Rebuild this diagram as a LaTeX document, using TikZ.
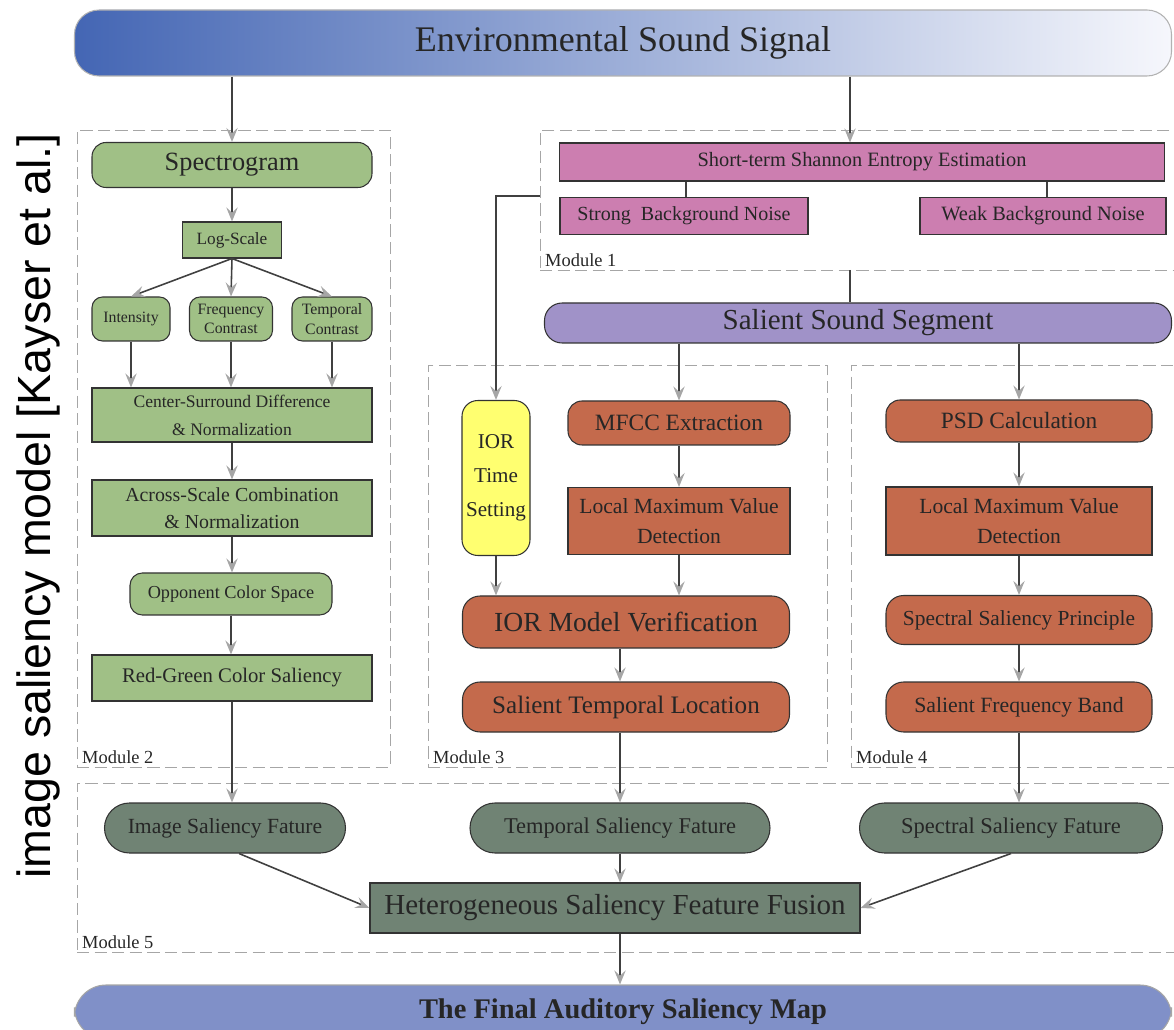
\documentclass[tikz,border=0pt]{standalone}
\usepackage{fontspec}
\setmainfont{Liberation Serif}
\newfontfamily\sidefont{Liberation Sans}
\usepackage{tikz}
\usetikzlibrary{%
		arrows.meta%
		,fit%
		,shapes.misc%
	}

\definecolor{titleblue}{RGB}{68,102,180}
\definecolor{titlemid}{RGB}{150,165,216}
\definecolor{titlepale}{RGB}{246,247,252}
\definecolor{grn}{RGB}{160,192,134}
\definecolor{pnk}{RGB}{204,126,176}
\definecolor{lil}{RGB}{160,146,200}
\definecolor{rust}{RGB}{196,106,76}
\definecolor{ylw}{RGB}{255,255,112}
\definecolor{sage}{RGB}{112,131,116}
\definecolor{mapblue}{RGB}{128,144,200}

\newcommand{\pxl}{0.02cm}
\newcommand{\fsz}[2]{\fontsize{#1}{#2}\selectfont}

\begin{document}
\begin{tikzpicture}[x=0.02cm, y=-0.02cm,
		wh/.style 2 args={minimum width=#1*\pxl, minimum height=#2*\pxl},
		box/.style={draw=black!80, line width=0.6pt, inner sep=0pt, align=center, text=black!85},
		grnbox/.style={box, fill=grn},
		pnkbox/.style={box, fill=pnk},
		rustbox/.style={box, fill=rust},
		sagebox/.style={box, fill=sage},
		pill/.style={box, fill=sage, rounded rectangle},
		modbox/.style={draw=gray!70, line width=0.5pt, dash pattern=on 7pt off 3pt, inner sep=0pt},
		modtag/.style={anchor=south west, inner sep=2pt, text=black!85, font=\fsz{10.5}{12}},
		arr/.style={draw=black!75, line width=0.9pt, -{Stealth[length=8pt, width=6.5pt, inset=3pt, gray!70]}},
		plain/.style={draw=black!75, line width=0.9pt}
	]
	\useasboundingbox (0,0) rectangle (1174,1030);
	\clip (0,0) rectangle (1174,1030);

	% dashed module frames
	\node[modbox, fit={(540,130) (1180,270)}] (m1) {};
	\node[modbox, fit={(77,130) (390,767)}] (m2) {};
	\node[modbox, fit={(428,365) (827,767)}] (m3) {};
	\node[modbox, fit={(851,365) (1180,767)}] (m4) {};
	\node[modbox, fit={(77,783) (1180,952)}] (m5) {};
	\foreach \m/\t in {m1/1, m2/2, m3/3, m4/4, m5/5}{
		\node[modtag] (\m-tag) at ([xshift=1pt]\m.south west) {Module \t};
	}

	% input and output bars
	\node[box, draw=gray!60, wh={1097}{66}, rounded corners=14pt, left color=titleblue, middle color=titlemid, right color=titlepale, font=\fsz{20.5}{24}] (title) at (623,43) {Environmental Sound Signal};
	\node[box, draw=gray!70, fill=mapblue, wh={1097}{54}, rounded corners=18pt, font=\fsz{16.2}{19}\bfseries] (final) at (623,1012) {The Final Auditory Saliency Map};
	\node[rotate=90, inner sep=0pt, font=\sidefont\fsz{26.5}{30}] (side) at (38,506) {image saliency model [Kayser et al.]};

	% module 1
	\node[pnkbox, wh={605}{38}, font=\fsz{11.6}{14}] (sse) at (862,162) {Short-term Shannon Entropy Estimation};
	\node[pnkbox, wh={248}{37}, font=\fsz{11.4}{14}] (sbn) at (684,216) {Strong\ \ Background Noise};
	\node[pnkbox, wh={246}{37}, font=\fsz{11.6}{14}] (wbn) at (1043,216) {Weak Background Noise};
	\node[box, fill=lil, wh={627}{40}, rounded corners=10pt, font=\fsz{16.5}{19}] (sss) at (858,323) {Salient Sound Segment};
	\coordinate (m1out) at (850,270);

	% module 2
	\node[grnbox, wh={280}{45}, rounded corners=8pt, font=\fsz{15}{18}] (spec) at (232,165) {Spectrogram};
	\node[grnbox, wh={99}{36}, font=\fsz{9.8}{12}] (logs) at (232,240) {Log-Scale};
	\node[grnbox, wh={78}{44}, rounded corners=6pt, font=\fsz{9}{11}] (intens) at (131,319) {Intensity};
	\node[grnbox, wh={83}{44}, rounded corners=6pt, font=\fsz{9}{11}] (freq) at (231,319) {Frequency\\Contrast};
	\node[grnbox, wh={80}{44}, rounded corners=6pt, font=\fsz{9}{11}] (temp) at (332,319) {Temporal\\Contrast};
	\node[grnbox, wh={280}{54}, font=\fsz{10}{16}] (csd) at (232,415) {Center-Surround Difference\\\& Normalization};
	\node[grnbox, wh={280}{56}, font=\fsz{11.3}{15.5}] (acs) at (232,508) {Across-Scale Combination\\\& Normalization};
	\node[grnbox, wh={202}{42}, rounded corners=7pt, font=\fsz{10.4}{13}] (ocs) at (231,594) {Opponent Color Space};
	\node[grnbox, wh={280}{46}, font=\fsz{11.8}{14}] (rgc) at (232,678) {Red-Green Color Saliency};

	% module 3
	\node[box, fill=ylw, wh={68}{155}, rounded corners=9pt, font=\fsz{12}{19.5}] (ior) at (496,478) {IOR\\Time\\Setting};
	\node[rustbox, wh={222}{44}, rounded corners=8pt, font=\fsz{13.3}{16}] (mfcc) at (679,423) {MFCC Extraction};
	\node[rustbox, wh={222}{67}, font=\fsz{12.3}{17}] (lmv3) at (679,521) {Local Maximum Value\\Detection};
	\node[rustbox, wh={327}{52}, rounded corners=10pt, font=\fsz{15.7}{18}] (iorv) at (626,622) {IOR Model Verification};
	\node[rustbox, wh={327}{50}, rounded corners=10pt, font=\fsz{14.3}{17}] (stl) at (626,707) {Salient Temporal Location};

	% module 4
	\node[rustbox, wh={266}{42}, rounded corners=8pt, font=\fsz{13.3}{16}] (psd) at (1019,421) {PSD Calculation};
	\node[rustbox, wh={266}{68}, font=\fsz{12.3}{17}] (lmv4) at (1019,521) {Local Maximum Value\\Detection};
	\node[rustbox, wh={266}{49}, rounded corners=10pt, font=\fsz{12.2}{15}] (ssp) at (1019,620) {Spectral Saliency Principle};
	\node[rustbox, wh={266}{50}, rounded corners=10pt, font=\fsz{12.4}{15}] (sfb) at (1019,707) {Salient Frequency Band};

	% module 5
	\node[pill, wh={241}{50}, font=\fsz{12.3}{15}] (isf) at (225,828) {Image Saliency Fature};
	\node[pill, wh={300}{50}, font=\fsz{12.8}{15}] (tsf) at (620,828) {Temporal Saliency Fature};
	\node[pill, wh={303}{50}, font=\fsz{12.8}{15}] (spsf) at (1011,828) {Spectral Saliency Fature};
	\node[sagebox, wh={490}{50}, font=\fsz{16.5}{19}] (hsff) at (615,908) {Heterogeneous Saliency Feature Fusion};

	% connectors
	\draw[arr] (title.south -| spec.north) -- (spec.north);
	\draw[arr] (title.south -| m1out) -- (sse.north -| m1out);
	\draw[plain] (sse.south -| 686,0) -- (sbn.north -| 686,0);
	\draw[plain] (sse.south -| 1047,0) -- (wbn.north -| 1047,0);
	\draw[plain] (m1out) -- (sss.north -| m1out);
	\draw[arr] (m1.west |- 0,196) -| (ior.north);
	\draw[arr] (sss.south -| mfcc.north) -- (mfcc.north);
	\draw[arr] (sss.south -| psd.north) -- (psd.north);

	\draw[arr] (spec.south) -- (logs.north);
	\foreach \b in {intens, freq, temp}{
		\draw[arr] (logs.south) -- (\b.north);
		\draw[arr] (\b.south) -- (\b.south |- csd.north);
	}
	\foreach \a/\b in {csd/acs, acs/ocs, ocs/rgc}{
		\draw[arr] (\a.south) -- (\a.south |- \b.north);
	}
	\draw[arr] (rgc.south) -- (rgc.south |- isf.north);

	\draw[arr] (mfcc.south) -- (lmv3.north);
	\draw[arr] (ior.south) -- (ior.south |- iorv.north);
	\draw[arr] (lmv3.south) -- (lmv3.south |- iorv.north);
	\draw[arr] (iorv.south -| tsf.north) -- (stl.north -| tsf.north);
	\draw[arr] (stl.south -| tsf.north) -- (tsf.north);

	\foreach \a/\b in {psd/lmv4, lmv4/ssp, ssp/sfb}{
		\draw[arr] (\a.south) -- (\b.north);
	}
	\draw[arr] (sfb.south) -- (sfb.south |- spsf.north);

	\draw[arr] ([xshift=8pt]isf.south) -- (hsff.west);
	\draw[arr] (tsf.south) -- (tsf.south |- hsff.north);
	\draw[arr] (spsf.south) -- (hsff.east);
	\draw[arr] (hsff.south -| tsf.south) -- (final.north -| tsf.south);
\end{tikzpicture}
\end{document}
